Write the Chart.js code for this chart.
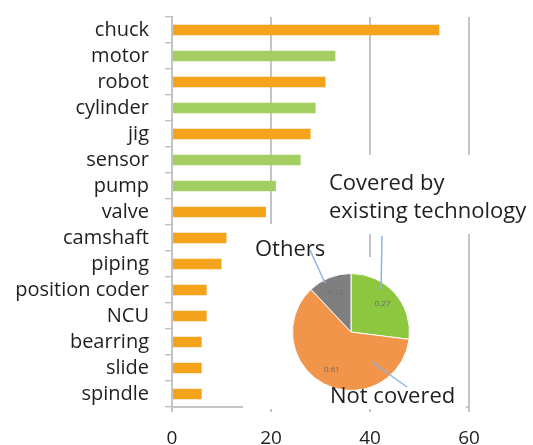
<!DOCTYPE html>
<html>
<head>
<meta charset="utf-8">
<script src="https://cdn.jsdelivr.net/npm/chart.js@4/dist/chart.umd.min.js"></script>
<style>
  html, body { margin: 0; padding: 0; background: #fff; }
  #wrap { position: relative; width: 533px; height: 445px; }
  #bars { position: absolute; left: 0; top: 0; }
  #pie { position: absolute; left: 243px; top: 150px; }
</style>
</head>
<body>
<div id="wrap">
  <canvas id="bars" width="533" height="445"></canvas>
  <canvas id="pie" width="290" height="265"></canvas>
</div>
<script>
// BAR DATA
const parts = ["chuck", "motor", "robot", "cylinder", "jig", "sensor", "pump", "valve",
  "camshaft", "piping", "position coder", "NCU", "bearring", "slide", "spindle"];
const counts = [54, 33, 31, 29, 28, 26, 21, 19, 11, 10, 7, 7, 6, 6, 6];
// true = covered by existing technology (green)
const covered = [false, true, false, true, false, true, true, false,
  false, false, false, false, false, false, false];
const xTicks = [0, 20, 40, 60];

// PIE DATA
const pieLabels = ["Covered by existing technology", "Not covered", "Others"];
const pieValues = [0.27, 0.61, 0.12];

const ORANGE = "#f5a31a";
const GREEN = "#a3cf62";
const GRID = "#c4c4c4";
const TEXT = "#1f1f1f";
const FONT = "'Open Sans', 'Noto Sans', sans-serif";

// BAR CHART
new Chart(document.getElementById("bars").getContext("2d"), {
  type: "bar",
  data: {
    labels: parts,
    datasets: [{
      data: counts,
      backgroundColor: covered.map(c => c ? GREEN : ORANGE),
      barPercentage: 0.4,
      categoryPercentage: 1,
    }],
  },
  options: {
    indexAxis: "y",
    responsive: false,
    animation: false,
    layout: { padding: { top: 17, right: 64, left: 0, bottom: 0 } },
    plugins: { legend: { display: false }, tooltip: { enabled: false } },
    scales: {
      x: {
        min: 0,
        max: 60,
        afterBuildTicks: axis => { axis.ticks = xTicks.map(v => ({ value: v })); },
        afterFit: axis => { axis.height = 38; },
        ticks: { font: { family: FONT, size: 19 }, color: TEXT, padding: 15 },
        grid: { color: GRID, lineWidth: 2, tickLength: 5 },
        border: { color: GRID, width: 2 },
      },
      y: {
        afterFit: axis => { axis.width = 172; axis.paddingTop = 0; axis.paddingBottom = 0; },
        ticks: { font: { family: FONT, size: 20 }, color: TEXT, padding: 16, autoSkip: false },
        grid: { offset: true, drawOnChartArea: false, tickLength: 7, color: GRID, lineWidth: 1.5 },
        border: { color: GRID, width: 2 },
      },
    },
  },
});

// PIE OVERLAY (white boxes + labels + leader lines)
const pieDecor = {
  id: "pieDecor",
  beforeDraw(chart) {
    const c = chart.ctx;
    c.save();
    c.fillStyle = "#fff";
    c.fillRect(77, 5, 213, 79);   // behind "Covered by ..." text
    c.fillRect(0, 74, 92, 44);    // behind "Others"
    c.fillRect(0, 107, 223, 152); // pie area
    c.restore();
  },
  afterDraw(chart) {
    const c = chart.ctx;
    const meta = chart.getDatasetMeta(0);
    c.save();
    // values inside slices
    c.font = "8px " + FONT;
    c.fillStyle = "#6b6b6b";
    c.textAlign = "center";
    c.textBaseline = "middle";
    meta.data.forEach((arc, i) => {
      const p = arc.getProps(["x", "y", "startAngle", "endAngle", "outerRadius"], true);
      const a = (p.startAngle + p.endAngle) / 2;
      const r = p.outerRadius * 0.72;
      c.fillText(pieValues[i].toFixed(2), p.x + Math.cos(a) * r, p.y + Math.sin(a) * r);
    });
    // leader lines
    c.strokeStyle = "#8eb4e3";
    c.lineWidth = 1.5;
    [[139, 86, 138, 140], [67, 100, 82, 133], [129, 212, 164, 237]].forEach(l => {
      c.beginPath(); c.moveTo(l[0], l[1]); c.lineTo(l[2], l[3]); c.stroke();
    });
    // category labels
    c.font = "22px " + FONT;
    c.fillStyle = TEXT;
    c.textAlign = "left";
    c.textBaseline = "middle";
    c.fillText("Covered by", 86, 34);
    c.fillText("existing technology", 86, 62);
    c.fillText("Others", 12, 100);
    c.fillText("Not covered", 87, 247);
    c.restore();
  },
};

new Chart(document.getElementById("pie").getContext("2d"), {
  type: "pie",
  data: {
    labels: pieLabels,
    datasets: [{
      data: pieValues,
      backgroundColor: ["#8dc63f", "#f0954a", "#7f7f7f"],
      borderColor: "#fff",
      borderWidth: 1,
    }],
  },
  options: {
    responsive: false,
    animation: false,
    layout: { padding: { left: 49, right: 123, top: 123, bottom: 24 } },
    plugins: { legend: { display: false }, tooltip: { enabled: false } },
  },
  plugins: [pieDecor],
});
</script>
</body>
</html>
